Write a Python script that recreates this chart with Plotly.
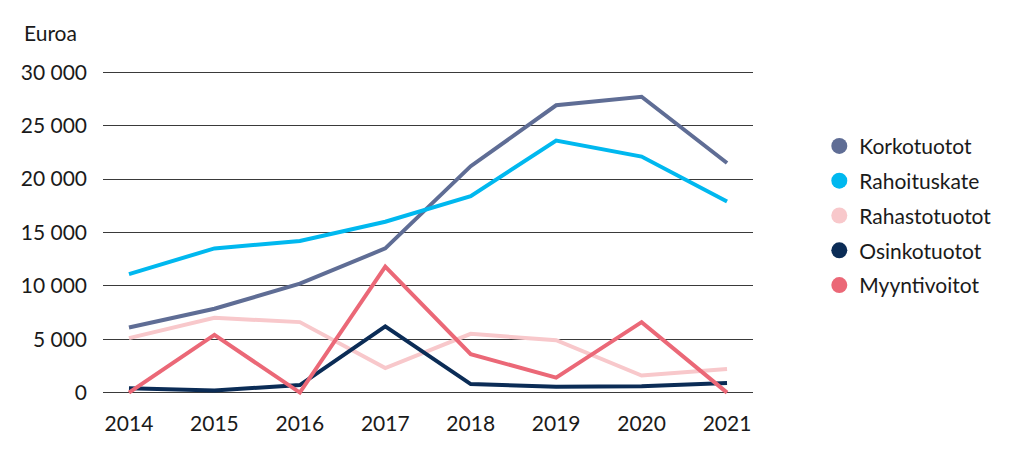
import plotly.graph_objs as go

years = [2014, 2015, 2016, 2017, 2018, 2019, 2020, 2021]

korkotuotot = [6100, 7850, 10200, 13500, 21200, 26900, 27700, 21500]
rahoituskate = [11100, 13500, 14200, 16000, 18400, 23600, 22100, 17900]
rahastotuotot = [5100, 7000, 6600, 2300, 5500, 4900, 1600, 2200]
osinkotuotot = [400, 200, 700, 6200, 800, 550, 600, 900]
myyntivoitot = [0, 5400, 0, 11800, 3600, 1400, 6600, 0]

y_ticks = [0, 5000, 10000, 15000, 20000, 25000, 30000]
y_labels = ["0", "5 000", "10 000", "15 000", "20 000", "25 000", "30 000"]

series = [
    ("Korkotuotot", korkotuotot, "#5f6d95"),
    ("Rahoituskate", rahoituskate, "#00b8ef"),
    ("Rahastotuotot", rahastotuotot, "#f8c8cb"),
    ("Osinkotuotot", osinkotuotot, "#0b2c56"),
    ("Myyntivoitot", myyntivoitot, "#eb6877"),
]

FONT = "Lato, 'Open Sans', sans-serif"

# the page body has an 8px margin, so the figure is a bit smaller than the window
W, H = 1016, 450
M_L, M_T, M_B = 95, 61, 59
PLOT_W = 650
PLOT_H = H - M_T - M_B

traces = []
for name, values, color in series:
    # the line itself
    traces.append(go.Scatter(
        x=years,
        y=values,
        mode="lines",
        name=name,
        legendgroup=name,
        showlegend=False,
        line=dict(color=color, width=4),
        hoverinfo="x+y+name"
    ))
    # legend entry with round marker
    traces.append(go.Scatter(
        x=[None],
        y=[None],
        mode="markers",
        name=name,
        legendgroup=name,
        marker=dict(color=color, size=16, symbol="circle"),
        hoverinfo="skip"
    ))

layout = go.Layout(
    width=W,
    height=H,
    autosize=False,
    paper_bgcolor="white",
    plot_bgcolor="white",
    margin=go.layout.Margin(l=M_L, r=W - M_L - PLOT_W, t=M_T, b=M_B, pad=0),
    font=dict(family=FONT, size=21, color="#1a1a1a"),
    xaxis=dict(
        range=[2013.696, 2021.304],
        tickvals=years,
        ticktext=[str(y) for y in years],
        showgrid=False,
        zeroline=False,
        showline=False,
        ticks="",
        ticklabelstandoff=10,
        tickfont=dict(size=21)
    ),
    yaxis=dict(
        range=[-600, 30300],
        tickvals=y_ticks,
        ticktext=y_labels,
        showgrid=True,
        gridcolor="#3a3a3a",
        gridwidth=1,
        zeroline=False,
        showline=False,
        ticks="",
        ticklabelstandoff=15,
        tickfont=dict(size=21)
    ),
    legend=dict(
        x=1.102,
        y=0.828,
        xanchor="left",
        yanchor="top",
        font=dict(size=21),
        itemsizing="trace",
        tracegroupgap=4.5,
        bgcolor="rgba(0,0,0,0)"
    ),
    annotations=[dict(
        text="Euroa",
        xref="paper", yref="paper",
        x=(14 - M_L) / PLOT_W,
        y=1 + (M_T - 25) / PLOT_H,
        xanchor="left",
        yanchor="middle",
        showarrow=False,
        font=dict(size=21)
    )],
    showlegend=True
)

fig = go.Figure(data=traces, layout=layout)
fig.write_html("out.html")
